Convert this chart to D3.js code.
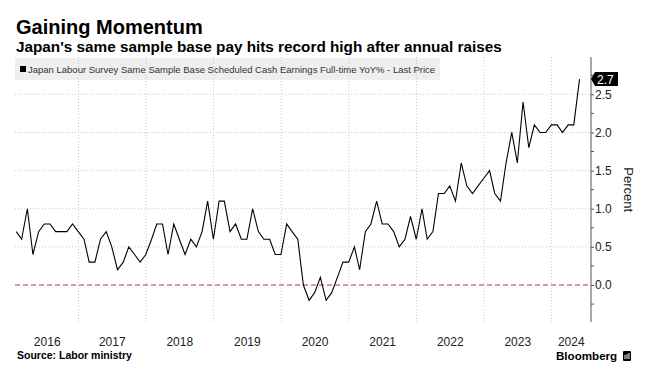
<!DOCTYPE html>
<html>
<head>
<meta charset="utf-8">
<script src="https://cdn.jsdelivr.net/npm/d3@7"></script>
<style>
  body { margin: 0; background: #fff; }
  svg { display: block; font-family: "Liberation Sans", Arial, sans-serif; }
</style>
</head>
<body>
<script>
// monthly YoY %, Jan 2016 .. May 2024
var years = [2016, 2017, 2018, 2019, 2020, 2021, 2022, 2023, 2024];
var values = [
  0.7, 0.6, 1.0, 0.4, 0.7, 0.8, 0.8, 0.7, 0.7, 0.7, 0.8, 0.7,
  0.6, 0.3, 0.3, 0.6, 0.7, 0.5, 0.2, 0.3, 0.5, 0.4, 0.3, 0.4,
  0.6, 0.8, 0.8, 0.4, 0.8, 0.6, 0.4, 0.6, 0.5, 0.7, 1.1, 0.6,
  1.1, 1.1, 0.7, 0.8, 0.6, 0.6, 1.0, 0.7, 0.6, 0.6, 0.4, 0.4,
  0.8, 0.7, 0.6, 0.0, -0.2, -0.1, 0.1, -0.2, -0.1, 0.1, 0.3, 0.3,
  0.5, 0.2, 0.7, 0.8, 1.1, 0.8, 0.8, 0.7, 0.5, 0.6, 0.9, 0.6,
  1.0, 0.6, 0.7, 1.2, 1.2, 1.3, 1.1, 1.6, 1.3, 1.2, 1.3, 1.4,
  1.5, 1.2, 1.1, 1.6, 2.0, 1.6, 2.4, 1.8, 2.1, 2.0, 2.0, 2.1,
  2.1, 2.0, 2.1, 2.1, 2.7
];
var yTicks = [0, 0.5, 1.0, 1.5, 2.0, 2.5];
var seriesName = "Japan Labour Survey Same Sample Base Scheduled Cash Earnings Full-time YoY% - Last Price";

// month-end dates
var data = values.map(function(v, i) {
  return { date: new Date(2016, i + 1, 0), value: v };
});

var width = 660, height = 385;
var pLeft = 15, pRight = 591, pTop = 57, pBottom = 322;

var x = d3.scaleTime()
    .domain([new Date(2016, 0, 1), new Date(2024, 7, 1)])
    .range([10.7, pRight]);

var y = d3.scaleLinear()
    .domain([-0.485, 2.95])
    .range([pBottom, 60]);

var svg = d3.select("body").append("svg")
    .attr("width", width)
    .attr("height", height);

// titles
svg.append("text")
    .attr("x", 16).attr("y", 34)
    .style("font-size", "20px").style("font-weight", "bold").style("fill", "#000")
    .text("Gaining Momentum");

svg.append("text")
    .attr("x", 16).attr("y", 52)
    .style("font-size", "15.3px").style("font-weight", "bold").style("fill", "#000")
    .text("Japan's same sample base pay hits record high after annual raises");

// legend box
svg.append("rect")
    .attr("x", pLeft).attr("y", 58)
    .attr("width", 425).attr("height", 22)
    .style("fill", "#efefef");

// horizontal grid
svg.append("g").selectAll("line")
    .data(yTicks.filter(function(d) { return d !== 0; }))
  .enter().append("line")
    .attr("x1", pLeft).attr("x2", pRight)
    .attr("y1", function(d) { return y(d); })
    .attr("y2", function(d) { return y(d); })
    .style("stroke", "#c8c8c8")
    .style("stroke-dasharray", "1,2");

// vertical grid at year starts
svg.append("g").selectAll("line")
    .data(years.slice(1))
  .enter().append("line")
    .attr("x1", function(d) { return x(new Date(d, 0, 1)); })
    .attr("x2", function(d) { return x(new Date(d, 0, 1)); })
    .attr("y1", pTop).attr("y2", pBottom)
    .style("stroke", "#c8c8c8")
    .style("stroke-dasharray", "1,2");

// zero line
svg.append("line")
    .attr("x1", pLeft).attr("x2", pRight)
    .attr("y1", y(0)).attr("y2", y(0))
    .style("stroke", "#e06a92")
    .style("stroke-width", 1.5)
    .style("stroke-dasharray", "5,3");

// legend contents
svg.append("rect")
    .attr("x", 20).attr("y", 66)
    .attr("width", 6).attr("height", 6)
    .style("fill", "#000");

svg.append("text")
    .attr("x", 28).attr("y", 73)
    .style("font-size", "9.5px").style("fill", "#333")
    .text(seriesName);

// the series
var line = d3.line()
    .x(function(d) { return x(d.date); })
    .y(function(d) { return y(d.value); });

svg.append("path")
    .datum(data)
    .attr("d", line)
    .style("fill", "none")
    .style("stroke", "#000")
    .style("stroke-width", 1.1);

// right axis
var yAxis = d3.axisRight(y)
    .tickValues(yTicks)
    .tickSize(3)
    .tickPadding(1)
    .tickFormat(d3.format(".1f"));

var ax = svg.append("g")
    .attr("transform", "translate(" + pRight + ",0)")
    .call(yAxis);
ax.select(".domain").remove();
ax.selectAll("line").style("stroke", "#555");
ax.selectAll("text")
    .style("font-size", "12px")
    .style("fill", "#222")
    .style("font-family", "Liberation Sans, Arial, sans-serif");

var minor = d3.range(-0.25, 2.9, 0.5);
svg.append("g").selectAll("line")
    .data(minor)
  .enter().append("line")
    .attr("x1", pRight).attr("x2", pRight + 3)
    .attr("y1", function(d) { return y(d); })
    .attr("y2", function(d) { return y(d); })
    .style("stroke", "#555");

svg.append("line")
    .attr("x1", pRight).attr("x2", pRight)
    .attr("y1", pTop).attr("y2", pBottom)
    .style("stroke", "#555");

svg.append("text")
    .attr("transform", "translate(624," + (y(1.25)) + ") rotate(90)")
    .attr("text-anchor", "middle")
    .style("font-size", "13px").style("fill", "#222")
    .text("Percent");

// last value tag
var last = data[data.length - 1];
var ly = y(last.value);
svg.append("path")
    .attr("d", "M" + pRight + "," + ly + "L" + (pRight + 4) + "," + (ly - 7) + "H618V" + (ly + 7) + "H" + (pRight + 4) + "Z")
    .style("fill", "#000");
svg.append("text")
    .attr("x", 597).attr("y", ly + 4.5)
    .style("font-size", "12px").style("fill", "#fff")
    .text(d3.format(".1f")(last.value));

// x axis year labels, centred in visible span of each year
svg.append("g").selectAll("text")
    .data(years)
  .enter().append("text")
    .attr("x", function(d) {
      var a = Math.max(x(new Date(d, 0, 1)), 16);
      var b = Math.min(x(new Date(d + 1, 0, 1)), pRight);
      return (a + b) / 2;
    })
    .attr("y", 346)
    .attr("text-anchor", "middle")
    .style("font-size", "12px").style("fill", "#222")
    .text(function(d) { return d; });

// footer
svg.append("text")
    .attr("x", 17).attr("y", 359)
    .style("font-size", "10.5px").style("font-weight", "bold").style("fill", "#000")
    .text("Source: Labor ministry");

svg.append("text")
    .attr("x", 556).attr("y", 360)
    .style("font-size", "11.6px").style("font-weight", "bold").style("fill", "#000")
    .text("Bloomberg");

svg.append("rect")
    .attr("x", 623).attr("y", 351)
    .attr("width", 8).attr("height", 10).attr("rx", 1)
    .style("fill", "#000");
[625, 627, 629].forEach(function(px, i) {
  svg.append("line")
      .attr("x1", px).attr("x2", px)
      .attr("y1", 359).attr("y2", 355 - i)
      .style("stroke", "#fff").style("stroke-width", 1);
});
</script>
</body>
</html>
